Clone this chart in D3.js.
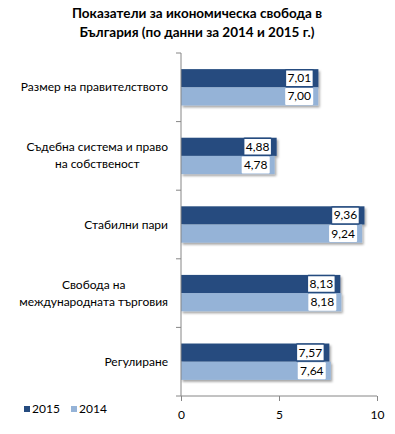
<!DOCTYPE html>
<html><head><meta charset="utf-8">
<script src="https://cdn.jsdelivr.net/npm/d3@7"></script>
<style>
body{margin:0;background:#fff;}
text{font-family:Lato,"Open Sans",sans-serif;fill:#000;}
</style></head>
<body>
<svg id="c" width="395" height="434"></svg>
<script>
const categories = [
  ["Размер на правителството"],
  ["Съдебна система и право", "на собственост"],
  ["Стабилни пари"],
  ["Свобода на", "международната търговия"],
  ["Регулиране"]
];
const seriesNames = ["2015", "2014"];
const values2015 = [7.01, 4.88, 9.36, 8.13, 7.57];
const values2014 = [7.00, 4.78, 9.24, 8.18, 7.64];
const xTicks = [0, 5, 10];
const titleLines = ["Показатели за икономическа свобода в", "България (по данни за 2014  и 2015  г.)"];
const colors = ["#254B7F", "#95B3D7"];

(function(){
const svg = d3.select("#c");
const defs = svg.append("defs");
const f = defs.append("filter").attr("id","sh").attr("x","-10%").attr("y","-30%").attr("width","130%").attr("height","180%");
f.append("feDropShadow").attr("dx",1.5).attr("dy",2).attr("stdDeviation",1.3).attr("flood-color","#000").attr("flood-opacity",0.35);

const pL = 181, pR = 377, pT = 53, pB = 396;
const x = d3.scaleLinear().domain([0,10]).range([pL,pR]);
const idx = d3.range(categories.length);
const y = d3.scaleBand().domain(idx).range([pT,pB]).paddingInner(0.47).paddingOuter(0.235);
const band = d3.scaleBand().domain([0,1]).range([0,y.bandwidth()]);

svg.append("g").selectAll("text").data(titleLines).join("text")
  .attr("x",197).attr("y",(d,i)=>18+i*19).attr("text-anchor","middle")
  .style("font-weight","bold").style("font-size","13.5px").text(d=>d);

const series = [values2015, values2014];
series.forEach((vals,s)=>{
  svg.append("g").selectAll("rect").data(vals).join("rect")
    .attr("x",x(0)).attr("y",(d,i)=>y(i)+band(s))
    .attr("width",d=>x(d)-x(0)).attr("height",band.bandwidth())
    .attr("fill",colors[s]).attr("filter","url(#sh)");
});
series.forEach((vals,s)=>{
  const g = svg.append("g").selectAll("g").data(vals).join("g")
    .attr("transform",(d,i)=>`translate(${x(d)-3},${y(i)+band(s)+band.bandwidth()/2})`);
  g.append("rect").attr("x",-30).attr("y",-8.5).attr("width",28).attr("height",17)
    .attr("fill","#fff").attr("stroke",s===0?colors[0]:"none").attr("stroke-width",1.5).attr("rx",1);
  g.append("text").attr("x",-16).attr("y",4).attr("text-anchor","middle")
    .style("font-size","12px").text(d=>d.toFixed(2).replace(".",","));
});

svg.append("line").attr("x1",pL).attr("x2",pL).attr("y1",pT).attr("y2",pB).attr("stroke","#868686");
const bounds = d3.range(categories.length+1).map(i=>pT+(pB-pT)*i/categories.length);
svg.append("g").selectAll("line").data(bounds).join("line")
  .attr("x1",pL-5).attr("x2",pL).attr("y1",d=>d).attr("y2",d=>d).attr("stroke","#868686");

const xa = svg.append("g").attr("transform",`translate(0,${pB})`)
  .call(d3.axisBottom(x).tickValues(xTicks).tickSize(5).tickPadding(9).tickFormat(d3.format("d")));
xa.select(".domain").attr("stroke","#868686").attr("d",`M${pL},0H${pR}`);
xa.selectAll(".tick line").attr("stroke","#868686");
xa.selectAll("text").style("font-size","12px").style("font-family","Lato,sans-serif").attr("fill","#000");

categories.forEach((lines,i)=>{
  const cy = y(i)+y.bandwidth()/2;
  const t = svg.append("text").attr("text-anchor","middle").style("font-size","12px");
  lines.forEach((l,j)=>{
    t.append("tspan").attr("y",cy+4+(j-(lines.length-1)/2)*17).text(l);
  });
  let maxW = 0;
  t.selectAll("tspan").each(function(){maxW=Math.max(maxW,this.getComputedTextLength());});
  t.selectAll("tspan").attr("x",168-maxW/2);
});

const lg = svg.append("g").attr("transform","translate(24,410)");
seriesNames.forEach((n,i)=>{
  const g = lg.append("g").attr("transform",`translate(${i*47},0)`);
  g.append("rect").attr("x",0).attr("y",-4).attr("width",6).attr("height",6).attr("fill",colors[i]);
  g.append("text").attr("x",8).attr("y",3).style("font-size","12px").text(n);
});
})();
</script>
</body></html>
